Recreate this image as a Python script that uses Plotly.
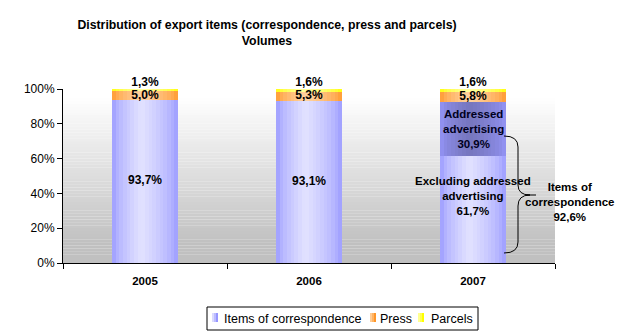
import plotly.graph_objects as go

# ---------------- data ----------------
years = ["2005", "2006", "2007"]
correspondence = [93.7, 93.1, 92.6]
excluding_addressed_2007 = 61.7
addressed_2007 = 30.9
press = [5.0, 5.3, 5.8]
parcels = [1.3, 1.6, 1.6]
y_ticks = [0, 20, 40, 60, 80, 100]
legend_names = ["Items of correspondence", "Press", "Parcels"]

def pct(v):
    return f"{v:.1f}".replace(".", ",") + "%"

# correspondence split: bottom part / top part (2007 only)
corr_bottom = [correspondence[0], correspondence[1], excluding_addressed_2007]
corr_top = [0, 0, addressed_2007]
base_top = corr_bottom
base_press = [b + t for b, t in zip(corr_bottom, corr_top)]
base_parcels = [b + p for b, p in zip(base_press, press)]

# ---------------- styling ----------------
FONT = "Arial, Liberation Sans, sans-serif"
BAR_W = 0.4
N = 18
L, R, T, B = 63, 555, 89, 263

def px(x):
    return (x - L) / (R - L)

def py(y):
    return (B - y) / (B - T)

def mix(c1, c2, f):
    return "rgb(%d,%d,%d)" % tuple(round(a + (b - a) * f) for a, b in zip(c1, c2))

def profile(s, peak=0.45):
    if s <= peak:
        f = s / peak
    else:
        f = (1 - s) / (1 - peak)
    return max(0.0, min(1.0, f)) ** 0.6

series = [
    (corr_bottom, [0, 0, 0], (150, 150, 255), (226, 226, 255)),
    (corr_top, base_top, (150, 150, 250), (118, 118, 190)),
    (press, base_press, (255, 150, 40), (255, 210, 160)),
    (parcels, base_parcels, (255, 255, 0), (255, 255, 160)),
]

fig = go.Figure()

for vals, bases, edge, peak in series:
    for k in range(N):
        s = (k + 0.5) / N
        fig.add_trace(go.Bar(
            x=[0, 1, 2], y=vals, base=bases,
            width=BAR_W / N + 0.002, offset=-BAR_W / 2 + k * BAR_W / N,
            marker=dict(color=mix(edge, peak, profile(s)), line=dict(width=0)),
            showlegend=False, hoverinfo="skip",
        ))

lab_font = dict(family=FONT, size=12, color="black")
# inside labels: correspondence (2005, 2006)
fig.add_trace(go.Scatter(
    x=[0, 1], y=[v / 2 for v in correspondence[:2]],
    text=["<b>" + pct(v) + "</b>" for v in correspondence[:2]], mode="text",
    textfont=lab_font, showlegend=False, hoverinfo="skip", cliponaxis=False,
))
# press labels
fig.add_trace(go.Scatter(
    x=[0, 1, 2], y=[b + v / 2 for b, v in zip(base_press, press)],
    text=["<b>" + pct(v) + "</b>" for v in press], mode="text",
    textfont=lab_font, showlegend=False, hoverinfo="skip", cliponaxis=False,
))
# parcels labels (above)
fig.add_trace(go.Scatter(
    x=[0, 1, 2], y=[b + v for b, v in zip(base_parcels, parcels)],
    text=["<b>" + pct(v) + "</b>" for v in parcels], mode="text", textposition="top center",
    textfont=lab_font, showlegend=False, hoverinfo="skip", cliponaxis=False,
))

# background gradient (plot area)
shapes = []
nb = 60
for i in range(nb):
    y0 = 100 * i / nb
    y1 = 100 * (i + 1) / nb
    t = (y0 + y1) / 200
    g = 192 + 63 * (t - 0.10) / (0.95 - 0.10)
    g = int(max(192, min(255, g)))
    shapes.append(dict(type="rect", xref="paper", yref="y", x0=0, x1=1, y0=y0, y1=y1 + 0.05,
                       fillcolor=f"rgb({g},{g},{g})", line=dict(width=0), layer="below"))

# curly brace (pixel geometry converted to paper coords)
pts = [
    "M", (504, 136), "Q", (518, 136), (518, 147), "L", (518, 185), "Q", (518, 195), (530, 195),
    "Q", (518, 195), (518, 206), "L", (518, 242), "Q", (518, 253), (504, 253),
    "M", (527, 195), "L", (536, 195),
]
path = ""
for p in pts:
    if isinstance(p, str):
        path += p + " "
    else:
        path += f"{px(p[0]):.5f},{py(p[1]):.5f} "
shapes.append(dict(type="path", xref="paper", yref="paper", path=path.strip(),
                   line=dict(color="black", width=1)))

# custom legend box
shapes.append(dict(type="rect", xref="paper", yref="paper", x0=px(207), x1=px(478),
                   y0=py(330), y1=py(307), line=dict(color="black", width=1), fillcolor="white"))
legend_items = [
    (212, 222, (150, 150, 255), (226, 226, 255)),
    (370, 378, (255, 150, 40), (255, 210, 160)),
    (418, 429, (255, 255, 0), (255, 255, 160)),
]
annotations = []
for (sx, tx, edge, peak), name in zip(legend_items, legend_names):
    for j, f in enumerate([0.9, 0.5, 0.0]):
        shapes.append(dict(type="rect", xref="paper", yref="paper",
                           x0=px(sx + 2 * j), x1=px(sx + 2 * j + 2), y0=py(322), y1=py(313),
                           fillcolor=mix(edge, peak, f), line=dict(width=0)))
    annotations.append(dict(x=px(tx), y=py(318.5), xref="paper", yref="paper", xanchor="left",
                            yanchor="middle", text=name, showarrow=False,
                            font=dict(family=FONT, size=12.5, color="black")))

annotations += [
    dict(x=2, y=base_top[2] + addressed_2007 / 2, xref="x", yref="y",
         xanchor="center", yanchor="middle",
         text="<b>Addressed<br>advertising<br>" + pct(addressed_2007) + "</b>",
         showarrow=False, font=dict(family=FONT, size=11.5, color="#000020")),
    dict(x=2, y=38.5, xref="x", yref="y", xanchor="center", yanchor="middle",
         text="<b>Excluding addressed<br>advertising<br>" + pct(excluding_addressed_2007) + "</b>",
         showarrow=False, font=dict(family=FONT, size=11.5, color="black")),
    dict(x=px(569), y=py(202), xref="paper", yref="paper", xanchor="center", yanchor="middle",
         text="<b>Items of<br>correspondence<br>" + pct(correspondence[2]) + "</b>",
         showarrow=False, font=dict(family=FONT, size=11.5, color="black")),
]

fig.update_layout(
    width=627, height=335,
    margin=dict(l=L, r=627 - R, t=T, b=335 - B, pad=0),
    paper_bgcolor="white", plot_bgcolor="rgba(0,0,0,0)",
    barmode="overlay", bargap=0, showlegend=False,
    font=dict(family=FONT, size=12, color="black"),
    title=dict(text="<b>Distribution of export items (correspondence, press and parcels)<br>Volumes</b>",
               x=267 / 627, xref="container", xanchor="center",
               y=1 - 29 / 335, yref="container", yanchor="middle",
               font=dict(family=FONT, size=12.3, color="black")),
    xaxis=dict(type="linear", range=[-0.5, 2.5], showline=True, linecolor="black", linewidth=1,
               tickmode="array", tickvals=[0, 1, 2], ticktext=[f"<b>{y}</b>" for y in years],
               ticks="", tickfont=dict(family=FONT, size=11.5, color="black"),
               showgrid=False, zeroline=False, ticklabelstandoff=7, fixedrange=True),
    xaxis2=dict(overlaying="x", anchor="y", side="bottom", range=[-0.5, 2.5],
                tickmode="array", tickvals=[-0.5, 0.5, 1.5, 2.5], showticklabels=False,
                ticks="outside", ticklen=5, tickcolor="black", showgrid=False, zeroline=False,
                showline=False, fixedrange=True),
    yaxis=dict(range=[0, 100], showline=True, linecolor="black", linewidth=1,
               ticks="outside", ticklen=5, tickcolor="black",
               tickvals=y_ticks, ticktext=[f"{v}%" for v in y_ticks],
               tickfont=dict(family=FONT, size=12, color="black"),
               showgrid=False, zeroline=False, fixedrange=True),
    shapes=shapes, annotations=annotations,
)
# dummy trace to activate xaxis2 (boundary ticks)
fig.add_trace(go.Scatter(x=[None], y=[None], xaxis="x2", showlegend=False, hoverinfo="skip"))

fig.write_html("out.html")
